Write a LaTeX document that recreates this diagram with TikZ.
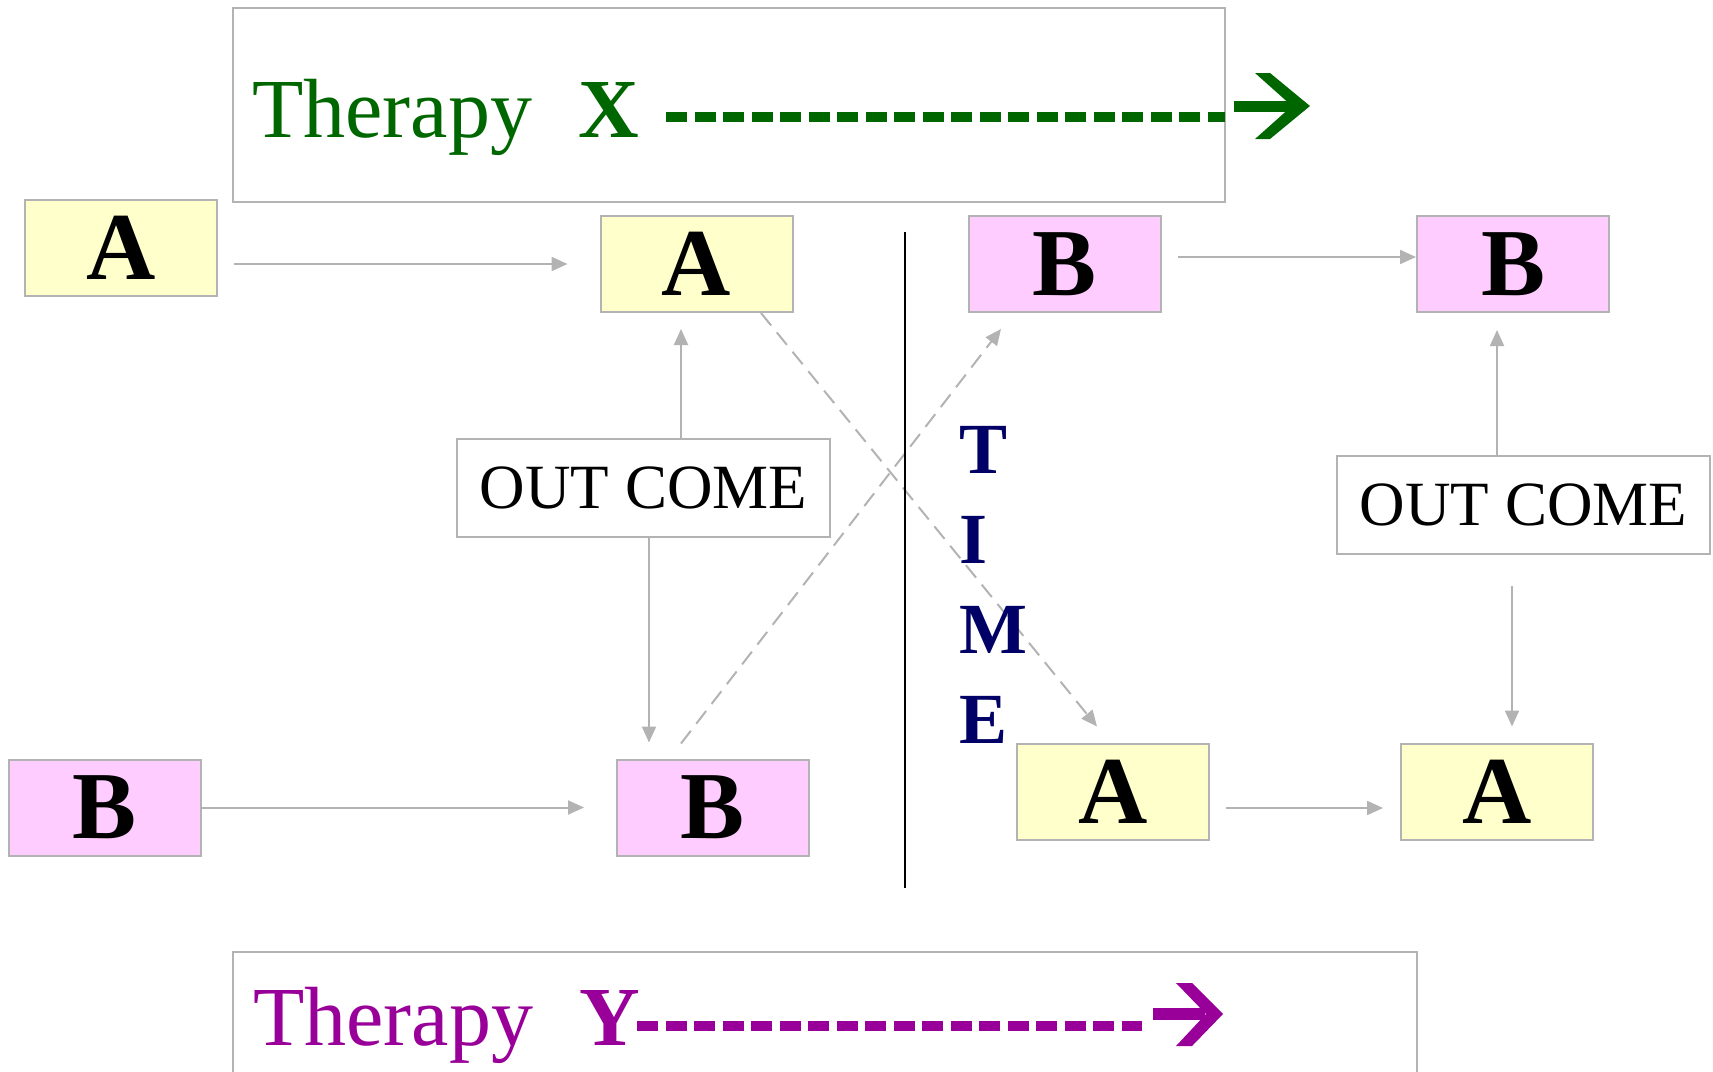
\documentclass[tikz,border=0pt]{standalone}
\usepackage{fontspec}
\setmainfont{Liberation Serif}
\usetikzlibrary{calc,arrows.meta}
\definecolor{boxgray}{HTML}{B3B3B3}
\definecolor{ayellow}{HTML}{FFFFCC}
\definecolor{bpink}{HTML}{FFCCFF}
\definecolor{thgreen}{HTML}{006600}
\definecolor{thpurple}{HTML}{990099}
\definecolor{timenavy}{HTML}{000066}
\begin{document}
\begin{tikzpicture}[x=1pt,y=-1pt,
  box/.style={draw=boxgray,line width=2pt,inner sep=0pt,minimum width=192pt,minimum height=96pt,font=\fontsize{96}{96}\selectfont\bfseries},
  abox/.style={box,fill=ayellow},
  bbox/.style={box,fill=bpink},
  outbox/.style={draw=boxgray,line width=2pt,fill=white,inner sep=0pt,minimum width=373pt,minimum height=98pt,font=\fontsize{63}{63}\selectfont},
  frame/.style={draw=boxgray,line width=2pt,inner sep=0pt},
  arr/.style={draw=boxgray,line width=2pt,-{Triangle[length=16pt,width=14pt]}},
  darr/.style={arr,dash pattern=on 16pt off 9pt},
  thdash/.style={line width=10pt,dash pattern=on 21pt off 7.5pt},
  timeletter/.style={anchor=base west,inner sep=0pt,text=timenavy,font=\fontsize{72}{72}\selectfont\bfseries},
  thlabel/.style={anchor=base west,inner sep=0pt,font=\fontsize{84}{84}\selectfont}
]
\useasboundingbox (0,0) rectangle (1713,1071);
\clip (0,0) rectangle (1713,1071);

% therapy frames
\node[frame,minimum width=992pt,minimum height=194pt] (topframe) at (729,105) {};
\node[frame,minimum width=1184pt,minimum height=140pt] (botframe) at (825,1022) {};

% boxes
\node[abox] (A1) at (121,248) {A};
\node[abox] (A2) at (696.5,264) {A};
\node[outbox] (OC1) at (643.5,488) {OUT COME};
\node[bbox] (B1) at (105,807.5) {B};
\node[bbox] (B2) at (713,807.5) {B};
\node[bbox] (B3) at (1065,264) {B};
\node[bbox] (B4) at (1513,264) {B};
\node[outbox] (OC2) at (1523.5,504.5) {OUT COME};
\node[abox] (A3) at (1113,791.5) {A};
\node[abox] (A4) at (1497,791.5) {A};

% connectors
\draw[arr] ($(A1.east |- A2.west)+(16,0)$) -- ($(A2.west)+(-32,0)$);
\draw[arr] ($(OC1.north)+(37.5,0)$) -- ($(A2.south)+(-15.5,16)$);
\draw[arr] ($(OC1.south)+(5.5,0)$) -- ($(B2.north)+(-64,-16)$);
\draw[arr] (B1.east) -- ($(B2.west)+(-32,0)$);
\draw[arr] ($(B3.east)+(16,-7)$) -- ($(B4.west)+(0,-7)$);
\draw[arr] ($(OC2.north)+(-26.5,0)$) -- ($(B4.south)+(-16,17)$);
\draw[arr] ($(OC2.south)+(-11.5,31)$) -- ($(A4.north)+(15,-16)$);
\draw[arr] ($(A3.east)+(16,16.5)$) -- ($(A4.west)+(-17,16.5)$);
\draw[darr] ($(A2.south)+(64.5,0)$) -- ($(A3.north)+(-16,-16)$);
\draw[darr] ($(B2.north)+(-32,-15)$) -- ($(B3.south)+(-64,16)$);

% time divider
\coordinate (vtop) at (905,232);
\coordinate (vbot) at (905,888);
\draw[black,line width=2pt] (vtop) -- (vbot);
\node[timeletter] (tT) at (959,473) {T};
\node[timeletter] (tI) at (959,563) {I};
\node[timeletter] (tM) at (959,653) {M};
\node[timeletter] (tE) at (959,743) {E};

% therapy X
\node[thlabel,text=thgreen] (thx) at (252,137) {Therapy\hspace{46pt}\textbf{X}};
\coordinate (xd0) at (666,117);
\coordinate (xd1) at (1225,117);
\draw[thgreen,thdash] (xd0) -- (xd1);
\fill[thgreen] (1234,101) rectangle (1298,112);
\fill[thgreen] (1255,73) -- (1270,73) -- (1310,106) -- (1270,139) -- (1255,139) -- (1292,106) -- cycle;

% therapy Y
\node[thlabel,text=thpurple] (thy) at (253,1045) {Therapy\hspace{46pt}\textbf{Y}};
\coordinate (yd0) at (637,1026);
\coordinate (yd1) at (1142,1026);
\draw[thpurple,thdash] (yd0) -- (yd1);
\fill[thpurple] (1153,1008) rectangle (1205,1020);
\fill[thpurple] (1176,983) -- (1192,983) -- (1223,1014) -- (1192,1046) -- (1176,1046) -- (1206,1014) -- cycle;
\end{tikzpicture}
\end{document}
